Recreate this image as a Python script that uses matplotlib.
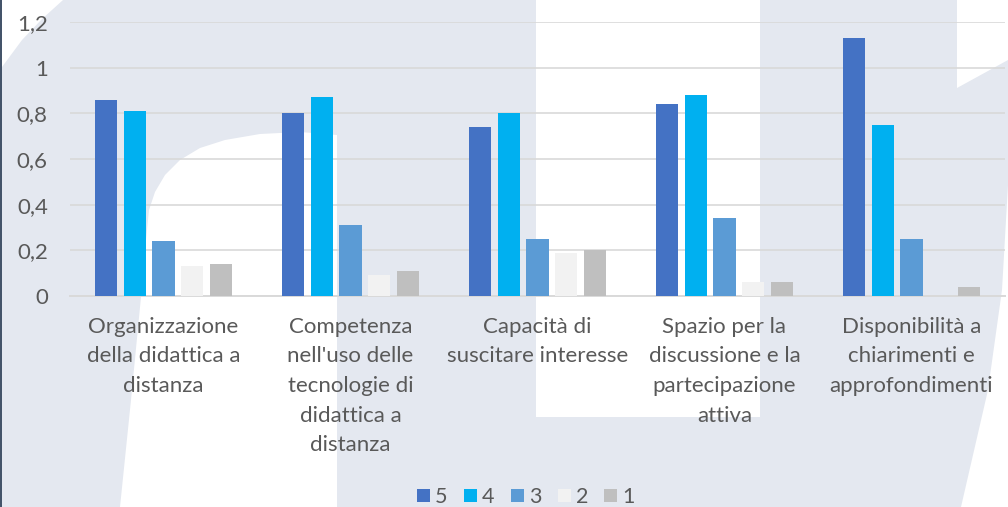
import matplotlib
matplotlib.use("Agg")
import matplotlib.pyplot as plt
import numpy as np
from matplotlib.patches import Polygon, Rectangle
from matplotlib.transforms import Affine2D

categories = [
    "Organizzazione\ndella didattica a\ndistanza",
    "Competenza\nnell'uso delle\ntecnologie di\ndidattica a\ndistanza",
    "Capacità di\nsuscitare interesse",
    "Spazio per la\ndiscussione e la\npartecipazione\nattiva",
    "Disponibilità a\nchiarimenti e\napprofondimenti",
]
series_names = ["5", "4", "3", "2", "1"]
v5 = [0.86, 0.80, 0.74, 0.84, 1.13]
v4 = [0.81, 0.87, 0.80, 0.88, 0.75]
v3 = [0.24, 0.31, 0.25, 0.34, 0.25]
v2 = [0.13, 0.09, 0.19, 0.06, 0.00]
v1 = [0.14, 0.11, 0.20, 0.06, 0.04]
series_values = [v5, v4, v3, v2, v1]
colors = ["#4472C4", "#00B0F0", "#5B9BD5", "#F2F2F2", "#BFBFBF"]
yticks = [0, 0.2, 0.4, 0.6, 0.8, 1.0, 1.2]
ytick_labels = ["0", "0,2", "0,4", "0,6", "0,8", "1", "1,2"]

W, H = 1008, 507
fig = plt.figure(figsize=(W / 100, H / 100), dpi=100)
fig.patch.set_facecolor("#E4E8F0")
plt.rcParams['font.family'] = ['Lato', 'DejaVu Sans']

# pixel transform (image coordinates, y downward)
pix = Affine2D().scale(1 / W, -1 / H).translate(0, 1) + fig.transFigure

white_regions = [
    [(2, 0), (63, 0), (42, 19), (22, 40), (2, 67)],
    [(337, 135), (300, 132), (260, 134), (225, 140), (200, 148), (180, 160),
     (165, 175), (155, 192), (149, 210), (146, 240), (141, 297), (131, 400),
     (120, 507), (337, 507)],
    [(536, 0), (760, 0), (760, 417), (536, 417)],
    [(957, 0), (1008, 0), (1008, 60), (957, 88)],
    [(1008, 185), (1002, 290), (988, 390), (961, 507), (1008, 507)],
]
for poly in white_regions:
    fig.patches.append(Polygon(poly, closed=True, transform=pix,
                               facecolor="white", edgecolor="none", zorder=-5))
fig.patches.append(Rectangle((0, 0), 2.2, H, transform=pix,
                             facecolor="#44546A", edgecolor="none", zorder=-4))

ax = fig.add_axes([70 / W, 1 - 296 / H, (1005 - 70) / W, (296 - 22) / H])
ax.set_zorder(1)
ax.set_facecolor("none")
ax.set_ylim(0, 1.2)
n = len(categories)
x = np.arange(n)
ax.set_xlim(-0.5, n - 0.5)
pitch = 0.1535
width = 0.12
for i, (name, vals, c) in enumerate(zip(series_names, series_values, colors)):
    ax.bar(x + (i - 2) * pitch, vals, width=width, color=c, label=name, zorder=3)

ax.set_yticks(yticks)
ax.set_yticklabels(ytick_labels)
ax.set_xticks(x)
ax.set_xticklabels(categories, linespacing=1.6)
ax.tick_params(axis="both", length=0, labelsize=16, labelcolor="#595959")
ax.tick_params(axis="y", pad=16)
ax.tick_params(axis="x", pad=15)
ax.grid(axis="y", color="#D9D9D9", linewidth=1.2, zorder=0)
for s in ["top", "right", "left"]:
    ax.spines[s].set_visible(False)
ax.spines["bottom"].set_color("#D9D9D9")
ax.spines["bottom"].set_linewidth(1.4)

leg = fig.legend(loc="center", bbox_to_anchor=(526 / W, 1 - 497 / H), ncol=5,
                 frameon=False, fontsize=15.5, handlelength=0.6, handleheight=0.6,
                 handletextpad=0.25, columnspacing=0.75, borderpad=0)
leg.set_zorder(2)
for t in leg.get_texts():
    t.set_color("#595959")

fig.savefig("out.png", dpi=100, facecolor=fig.get_facecolor())
